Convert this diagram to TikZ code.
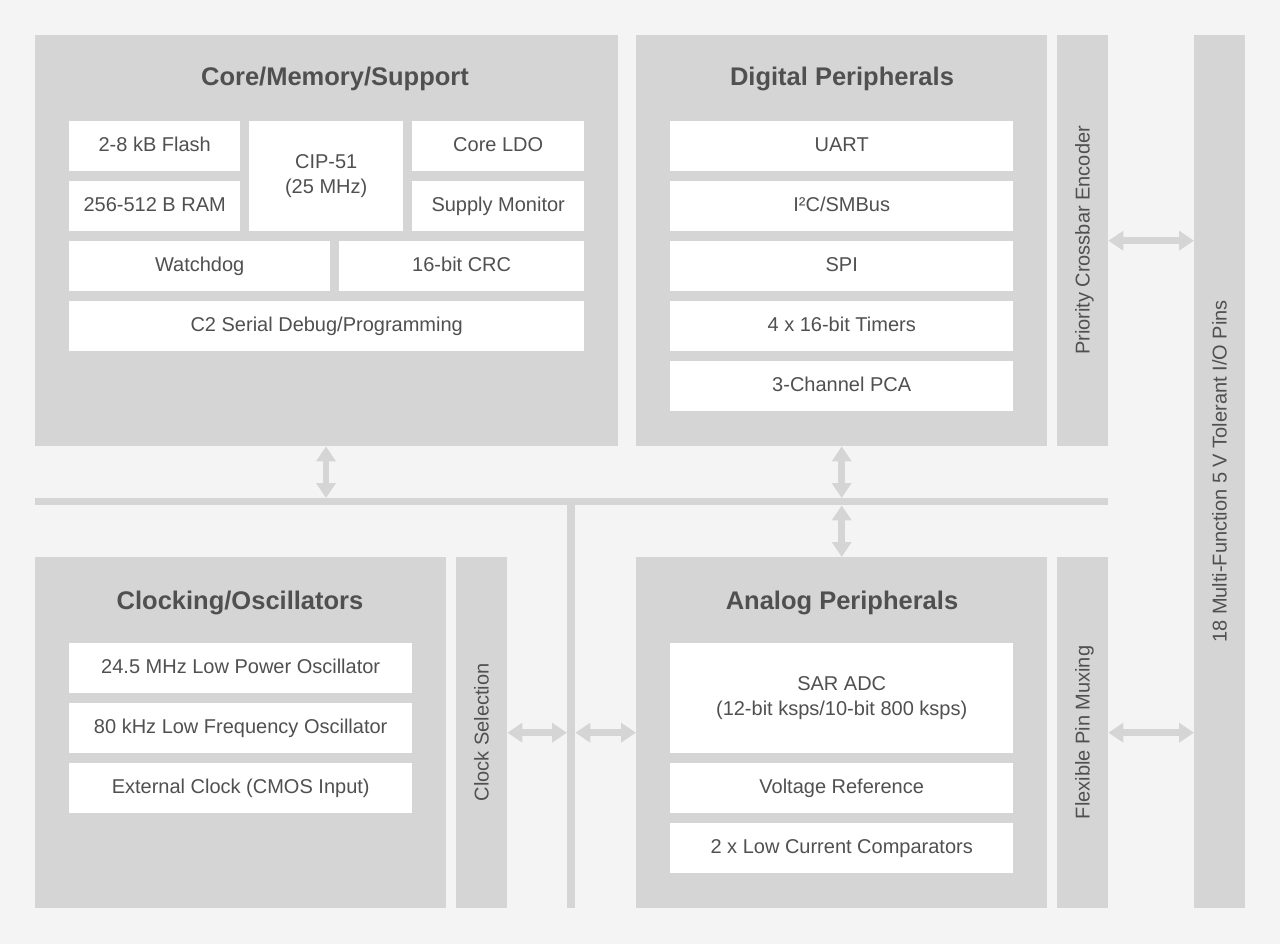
\documentclass[tikz,border=0pt]{standalone}
\usepackage{fontspec}
\setmainfont{Liberation Sans}
\usetikzlibrary{arrows.meta}
\definecolor{bg}{HTML}{F4F4F4}
\definecolor{pan}{HTML}{D5D5D5}
\definecolor{txt}{HTML}{505050}
\tikzset{
  panel/.style={fill=pan, draw=none, inner sep=0pt, anchor=north west},
  box/.style={fill=white, draw=none, inner sep=0pt, anchor=north west, text=txt,
    font=\fontsize{20}{25}\selectfont, align=center, text height=10.6pt, text depth=0pt},
  mbox/.style={fill=white, draw=none, inner sep=0pt, anchor=north west, text=txt,
    font=\fontsize{20}{25}\selectfont, align=center},
  ttl/.style={text=txt, font=\bfseries\fontsize{25.5}{30}\selectfont, anchor=base, inner sep=0pt},
  vlab/.style={text=txt, font=\fontsize{20}{24}\selectfont, rotate=90, inner sep=0pt, text height=14.3pt, text depth=0pt},
  darr/.style={draw=pan, line width=6.5pt,
    {Triangle[width=19pt,length=15pt]}-{Triangle[width=19pt,length=15pt]}}
}
\newcommand\blk[7][box]{\node[#1, minimum width={(#5-#3)*1pt}, minimum height={(#6-#4)*1pt}] (#2) at (#3,#4) {#7};}
\begin{document}
\begin{tikzpicture}[x=1pt,y=-1pt]
\useasboundingbox (0,0) rectangle (1280,944);
\fill[bg] (0,0) rectangle (1280,944);
% panels
\blk[panel]{core}{35}{35}{618}{446}{}
\blk[panel]{dig}{636}{35}{1047}{446}{}
\blk[panel]{xbar}{1057}{35}{1108}{446}{}
\blk[panel]{io}{1194}{35}{1245}{908}{}
\blk[panel]{bus}{35}{498}{1108}{505}{}
\blk[panel]{vbus}{567}{505}{575}{908}{}
\blk[panel]{clk}{35}{557}{446}{908}{}
\blk[panel]{clksel}{456}{557}{507}{908}{}
\blk[panel]{ana}{636}{557}{1047}{908}{}
\blk[panel]{mux}{1057}{557}{1108}{908}{}
% titles
\node[ttl] (tcore) at (335,86) {Core/Memory/Support};
\node[ttl] (tdig) at (842,86) {Digital Peripherals};
\node[ttl] (tclk) at (240,609) {Clocking/Oscillators};
\node[ttl] (tana) at (842,609) {Analog Peripherals};
% vertical labels
\node[vlab] (lxbar) at (1082.5,240.5) {Priority Crossbar Encoder};
\node[vlab] (lio) at (1219.5,471.5) {18 Multi-Function 5 V Tolerant I/O Pins};
\node[vlab] (lclk) at (481.5,732.5) {Clock Selection};
\node[vlab] (lmux) at (1082.5,732.5) {Flexible Pin Muxing};
% core blocks
\blk{flash}{69}{121}{240}{171}{2-8 kB Flash}
\blk{ram}{69}{181}{240}{231}{256-512 B RAM}
\blk[mbox]{cpu}{249}{121}{403}{231}{CIP-51\\(25 MHz)}
\blk{ldo}{412}{121}{584}{171}{Core LDO}
\blk{mon}{412}{181}{584}{231}{Supply Monitor}
\blk{wdt}{69}{241}{330}{291}{Watchdog}
\blk{crc}{339}{241}{584}{291}{16-bit CRC}
\blk{c2}{69}{301}{584}{351}{C2 Serial Debug/Programming}
% digital blocks
\blk{uart}{670}{121}{1013}{171}{UART}
\blk{i2c}{670}{181}{1013}{231}{I²C/SMBus}
\blk{spi}{670}{241}{1013}{291}{SPI}
\blk{tmr}{670}{301}{1013}{351}{4 x 16-bit Timers}
\blk{pca}{670}{361}{1013}{411}{3-Channel PCA}
% clock blocks
\blk{osc1}{69}{643}{412}{693}{24.5 MHz Low Power Oscillator}
\blk{osc2}{69}{703}{412}{753}{80 kHz Low Frequency Oscillator}
\blk{osc3}{69}{763}{412}{813}{External Clock (CMOS Input)}
% analog blocks
\blk[mbox]{adc}{670}{643}{1013}{753}{\raisebox{-3pt}{SAR ADC}\\\raisebox{-3pt}{(12-bit ksps/10-bit 800 ksps)}}
\blk{vref}{670}{763}{1013}{813}{Voltage Reference}
\blk{cmp}{670}{823}{1013}{873}{2 x Low Current Comparators}
% connectors
\coordinate (ax) at (326,0);
\draw[darr] (core.south -| ax) -- (bus.north -| ax);
\draw[darr] (dig.south) -- (bus.north -| dig.south);
\draw[darr] (bus.south -| ana.north) -- (ana.north);
\draw[darr] (clksel.east) -- (vbus.west |- clksel.east);
\draw[darr] (vbus.east |- ana.west) -- (ana.west);
\draw[darr] (mux.east) -- (io.west |- mux.east);
\draw[darr] (xbar.east) -- (io.west |- xbar.east);
\end{tikzpicture}
\end{document}
